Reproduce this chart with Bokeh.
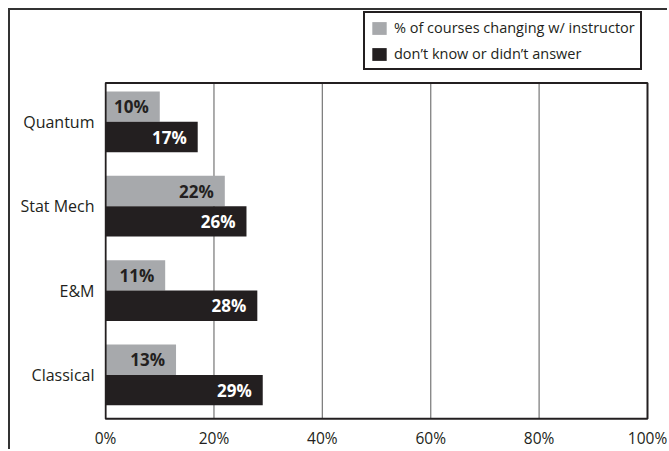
from bokeh.plotting import figure
from bokeh.models import (ColumnDataSource, Range1d, FixedTicker, PrintfTickFormatter,
                          Legend, LegendItem)
from bokeh.core.properties import value
from bokeh.embed import file_html
from bokeh.resources import INLINE

# ---- data ----
categories = ["Classical", "E&M", "Stat Mech", "Quantum"]
changing = [13, 11, 22, 10]
dont_know = [29, 28, 26, 17]
x_ticks = [0, 20, 40, 60, 80, 100]
series_names = ["% of courses changing w/ instructor", "don\u2019t know or didn\u2019t answer"]

FONT = "Open Sans"
GRAY = "#a7a9ac"
DARK = "#231f20"
GRID = "#808080"

# layout constants (data-space extent of the inner chart box)
Y_LO, Y_HI = -0.52, 3.46

ypos = list(range(len(categories)))
off = 0.18
src_a = ColumnDataSource(dict(y=[v + off for v in ypos], x=changing,
                              label=[f"{v}%" for v in changing]))
src_b = ColumnDataSource(dict(y=[v - off for v in ypos], x=dont_know,
                              label=[f"{v}%" for v in dont_know]))

p = figure(width=659, height=441, output_backend="svg", toolbar_location=None,
           x_range=Range1d(-0.2, 104.06), y_range=Range1d(-0.54, 4.32),
           min_border_left=94, min_border_right=0, min_border_top=0,
           min_border_bottom=31)
p.styles = {"margin-top": "8px", "margin-left": "8px",
            "border-top": "2px solid #333", "border-left": "2px solid #333"}
p.outline_line_color = None
p.background_fill_color = "white"
p.border_fill_color = "white"
p.xgrid.grid_line_color = None
p.ygrid.grid_line_color = None

# vertical grid lines inside the inner box
inner_ticks = x_ticks[1:-1]
p.segment(x0=inner_ticks, x1=inner_ticks, y0=[Y_LO] * len(inner_ticks),
          y1=[Y_HI] * len(inner_ticks), line_color=GRID, line_width=1.3)

ra = p.hbar(y="y", right="x", left=0, height=0.36, source=src_a,
            fill_color=GRAY, line_color=None)
rb = p.hbar(y="y", right="x", left=0, height=0.36, source=src_b,
            fill_color=DARK, line_color=None)

# inner chart box
p.quad(left=[x_ticks[0]], right=[x_ticks[-1]], bottom=[Y_LO], top=[Y_HI],
       fill_color=None, line_color=DARK, line_width=2)

p.text(x="x", y="y", text="label", source=src_a, text_align="right",
       text_baseline="middle", x_offset=-11, text_font=value(FONT),
       text_font_style="bold", text_font_size="17px", text_color=DARK)
p.text(x="x", y="y", text="label", source=src_b, text_align="right",
       text_baseline="middle", x_offset=-11, text_font=value(FONT),
       text_font_style="bold", text_font_size="17px", text_color="white")

# axes
xa = p.xaxis[0]
xa.ticker = FixedTicker(ticks=x_ticks)
xa.formatter = PrintfTickFormatter(format="%d%%")
xa.major_tick_out = 0
xa.major_tick_in = 0
xa.minor_tick_out = 0
xa.minor_tick_in = 0
xa.axis_line_color = None
xa.major_label_text_font = FONT
xa.major_label_text_font_size = "15.5px"
xa.major_label_text_color = DARK
xa.major_label_standoff = 6

ya = p.yaxis[0]
ya.ticker = FixedTicker(ticks=ypos)
ya.major_label_overrides = {i: c for i, c in zip(ypos, categories)}
ya.major_tick_out = 0
ya.major_tick_in = 0
ya.minor_tick_out = 0
ya.minor_tick_in = 0
ya.axis_line_color = None
ya.major_label_text_font = FONT
ya.major_label_text_font_size = "16px"
ya.major_label_text_color = DARK
ya.major_label_standoff = 10

legend = Legend(items=[LegendItem(label=series_names[0], renderers=[ra]),
                       LegendItem(label=series_names[1], renderers=[rb])],
                location=(259, 350))
legend.border_line_color = DARK
legend.border_line_width = 2
legend.border_line_alpha = 1
legend.background_fill_color = "white"
legend.background_fill_alpha = 1
legend.label_text_font = FONT
legend.label_text_font_size = "14.5px"
legend.label_text_color = DARK
legend.glyph_width = 18
legend.glyph_height = 16
legend.label_height = 16
legend.label_standoff = 6
legend.spacing = 7
legend.padding = 5
legend.margin = 0
p.add_layout(legend)

open("out.html", "w").write(file_html(p, INLINE))
